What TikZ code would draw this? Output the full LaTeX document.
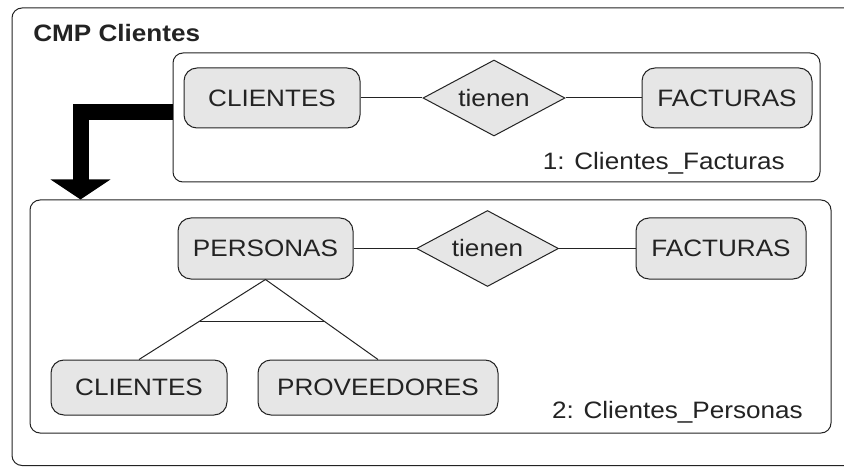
\documentclass[tikz,border=0pt]{standalone}
\usepackage{fontspec}
\newfontfamily\dfont[FakeStretch=1.1]{Liberation Sans}
\usetikzlibrary{shapes.geometric,arrows.meta,calc}
\newdimen\pxu \pxu=0.75pt
\definecolor{ink}{RGB}{35,35,35}
\definecolor{entfill}{RGB}{230,230,230}
\begin{document}
\begin{tikzpicture}[x=0.75pt,y=-0.75pt,
  every node/.style={font=\dfont\fontsize{17.8}{20}\selectfont, text=ink},
  entity/.style={draw=ink, fill=entfill, rounded corners=13\pxu, line width=1\pxu, inner sep=0pt, align=center},
  rel/.style={draw=ink, fill=entfill, diamond, inner sep=0pt, minimum width=142\pxu, minimum height=76\pxu, shape aspect=1.87, line width=1\pxu},
  boxframe/.style={draw=ink, fill=white, rounded corners=10\pxu, line width=1\pxu, inner sep=0pt},
  link/.style={draw=ink, line width=1\pxu},
  bigarrow/.style={draw=black, line width=16\pxu, -{Triangle[width=44.25pt,length=15pt]}},
  schemaname/.style={inner sep=0pt, anchor=east}
]
\useasboundingbox (0,0) rectangle (844,467);
\clip (0,0) rectangle (844,467);

% outer container
\draw[draw=ink, line width=1\pxu, rounded corners=10\pxu] (12,8) rectangle (900,465.5);
\node[anchor=west, inner sep=0pt, font=\dfont\bfseries\fontsize{17.8}{20}\selectfont] (title) at (33,33) {CMP Clientes};

% the two schemas
\node[boxframe, minimum width=647\pxu, minimum height=129\pxu] (fr1) at (496.5,117.5) {};
\node[boxframe, minimum width=801\pxu, minimum height=233\pxu] (fr2) at (430.5,316.5) {};

% transformation arrow
\draw[bigarrow] ([yshift=4.1pt]fr1.west) -| ($(fr2.north west)+(51,0)$);

% schema 1
\node[entity, minimum width=176\pxu, minimum height=60\pxu] (c1) at (272,98) {CLIENTES};
\node[rel] (r1) at (494,98) {tienen};
\node[entity, minimum width=170\pxu, minimum height=60\pxu] (f1) at (727,98) {FACTURAS};
\draw[link] (c1) -- (r1) -- (f1);
\node[schemaname] (n1) at (785,163) {1: Clientes\_Facturas};

% schema 2
\node[entity, minimum width=175\pxu, minimum height=61\pxu] (p) at (265.5,248.5) {PERSONAS};
\node[rel] (r2) at (487.5,248.5) {tienen};
\node[entity, minimum width=170\pxu, minimum height=61\pxu] (f2) at (721,248.5) {FACTURAS};
\draw[link] (p) -- (r2) -- (f2);
\node[entity, minimum width=176\pxu, minimum height=55\pxu] (c2) at (139,387.5) {CLIENTES};
\node[entity, minimum width=240\pxu, minimum height=55\pxu] (pr) at (378,387.5) {PROVEEDORES};
\draw[link] (c2.north) -- (p.south) -- (pr.north);
\draw[link] ($(p.south)!0.519!(c2.north)$) -- ($(p.south)!0.519!(pr.north)$);
\node[schemaname] (n2) at (803,412) {2: Clientes\_Personas};
\end{tikzpicture}
\end{document}
